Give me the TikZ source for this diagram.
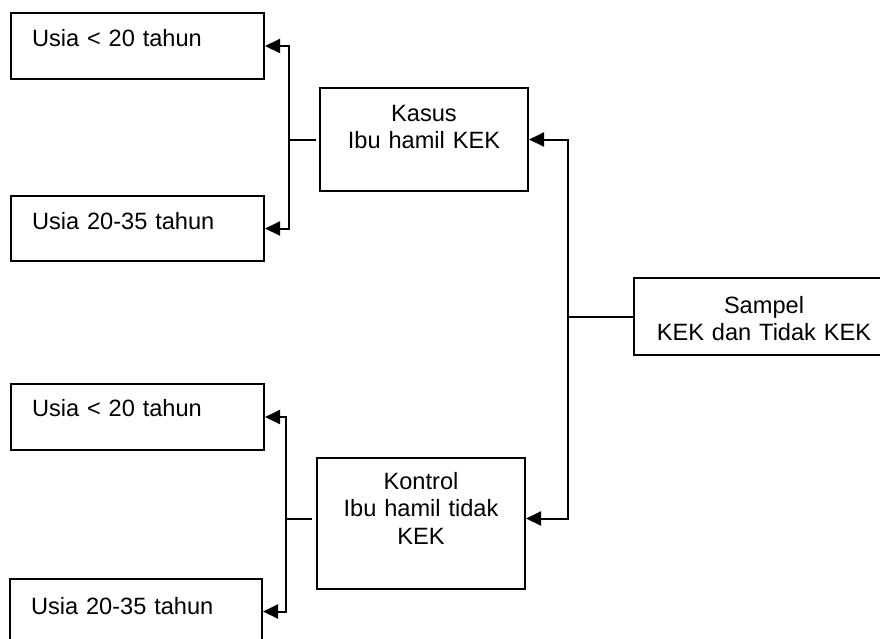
\documentclass[tikz,border=0pt]{standalone}
\usepackage{fontspec}
\setmainfont{Liberation Sans}
\usetikzlibrary{arrows.meta}
\begin{document}
\begin{tikzpicture}[x=1pt,y=-1pt,
  every node/.style={font=\fontsize{23.6pt}{27.5pt}\selectfont},
  box/.style={draw, line width=2pt, anchor=north west, inner ysep=0pt},
  usia/.style={box, inner xsep=21pt, text width=211pt, align=left},
  group/.style={box, inner xsep=4pt, align=center},
  link/.style={line width=2pt},
  arr/.style={link, -{Triangle[length=15pt,width=14pt]}}]
\clip (0,0) rectangle (880,638);

% age boxes (left column)
\node[usia, text height=33pt, text depth=33pt] (u1) at (10,12) {Usia < 20 tahun};
\node[usia, text height=33pt, text depth=32pt] (u2) at (10,195) {Usia 20-35 tahun};
\node[usia, text height=32pt, text depth=34pt] (u3) at (10,383) {Usia < 20 tahun};
\node[usia, text height=35pt, text depth=30pt, text width=210pt] (u4) at (9,578) {Usia 20-35 tahun};

% case / control groups
\node[group, text width=200pt, text height=33pt, text depth=70pt] (kasus) at (319,87) {Kasus\\Ibu hamil KEK};
\node[group, text width=200pt, text height=31pt, text depth=100pt] (kontrol) at (316,457) {Kontrol\\Ibu hamil tidak\\KEK};

% sample
\node[group, text width=252pt, text height=35pt, text depth=42pt] (sampel) at (633,277) {Sampel\\KEK dan Tidak KEK};

% branch points
\coordinate (jl1) at (289,138.5);
\coordinate (jl2) at (286,517.5);
\coordinate (jr) at (568,315.5);

% sample -> groups
\draw[link] (sampel.west) -- (sampel.west -| jr);
\draw[arr] (jr) |- (kasus.east);
\draw[arr] (jr) |- ([yshift=5pt]kontrol.east);

% cases -> age classes
\draw[link, shorten <=3pt] (kasus.west) -- (kasus.west -| jl1);
\draw[arr] (jl1) |- (u1.east);
\draw[arr] (jl1) |- (u2.east);

% controls -> age classes
\draw[link, shorten <=4pt] ([yshift=5pt]kontrol.west) -- ([yshift=5pt]kontrol.west -| jl2);
\draw[arr] (jl2) |- (u3.east);
\draw[arr] (jl2) |- (u4.east);
\end{tikzpicture}
\end{document}
